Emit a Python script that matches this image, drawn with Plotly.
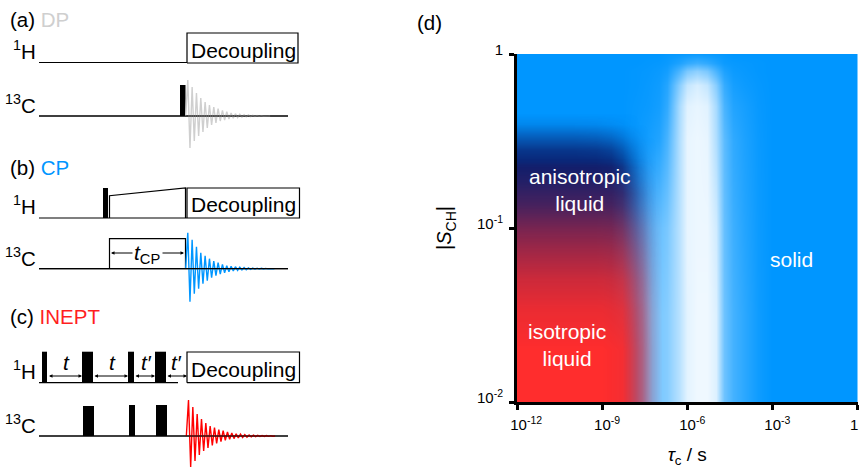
import plotly.graph_objects as go

BLUE = "#0096ff"
RED = "#ff1f1f"
GREY = "#cfcfcf"
FONT = "Liberation Sans"

# ---- panel (d) data: exponents of the axes and intensity tables
tick_tau = [1e-12, 1e-9, 1e-6, 1e-3, 1]
tick_tau_text = ["\u00a0\u00a010<sup>-12</sup>", "10<sup>-9</sup>", "10<sup>-6</sup>", "10<sup>-3</sup>", "1\u00a0\u00a0\u00a0\u00a0"]
tick_s = [1e-2, 1e-1, 1]
tick_s_text = ["10<sup>-2</sup>", "10<sup>-1</sup>", "1"]

white_tau = [-12.5, -8.3, -7.8, -7.4, -7.0, -6.7, -6.3, -6.0, -5.64, -5.3, -5.0, -4.7, -4.4, -4.0, -3.5, -3.0, 0.5]
white_s = [-2.3, -1.5, -1.0, -0.5, -0.3, -0.18, -0.1, -0.05, 0.0, 0.2]
white_level = [
    [0, 0, .10, .40, .50, .55, .75, .93, .98, .98, .90, .45, .28, .18, .06, 0, 0],
    [0, 0, .10, .40, .50, .55, .75, .93, .98, .98, .90, .45, .28, .18, .06, 0, 0],
    [0, 0, .10, .30, .42, .50, .75, .95, .97, .97, .85, .42, .25, .15, .05, 0, 0],
    [0, 0, .03, .08, .14, .30, .72, .95, .97, .95, .72, .38, .20, .12, .04, 0, 0],
    [0, 0, .02, .04, .08, .20, .68, .92, .95, .92, .68, .30, .14, .09, .03, 0, 0],
    [0, 0, .01, .03, .06, .15, .55, .80, .88, .80, .55, .22, .09, .05, .02, 0, 0],
    [0, 0, .01, .02, .04, .08, .30, .50, .58, .50, .30, .12, .05, .03, .01, 0, 0],
    [0, 0, 0, .01, .02, .04, .12, .20, .25, .20, .12, .05, .03, .02, .01, 0, 0],
    [0, 0, 0, 0, 0, .02, .03, .04, .05, .04, .03, .02, 0, 0, 0, 0, 0],
    [0, 0, 0, 0, 0, 0, 0, 0, 0, 0, 0, 0, 0, 0, 0, 0, 0],
]

navy_tau = [-12.5, -10, -9.2, -8.7, -8.3, -8, -7.7, -7.4, -7.1, 0.5]
navy_s = [-2.3, -1.4, -0.8, -0.65, -0.55, -0.47, -0.40, -0.34, 0.2]
navy_level = [
    [1, 1, 1, .90, .55, .20, .05, 0, 0, 0],
    [1, 1, 1, .90, .55, .20, .05, 0, 0, 0],
    [1, 1, 1, 1, .88, .60, .32, .10, 0, 0],
    [1, 1, 1, .97, .80, .50, .25, .07, 0, 0],
    [.80, .80, .78, .70, .52, .30, .14, .03, 0, 0],
    [.45, .45, .42, .35, .24, .12, .05, 0, 0, 0],
    [.12, .12, .11, .08, .05, .02, 0, 0, 0, 0],
    [0, 0, 0, 0, 0, 0, 0, 0, 0, 0],
    [0, 0, 0, 0, 0, 0, 0, 0, 0, 0],
]

red_tau = [-12.5, -9.0, -8.3, -7.95, -7.6, -7.25, -6.9, 0.5]
red_tau_level = [1, 1, 0.96, 0.80, 0.58, 0.22, 0, 0]
red_s = [-2.3, -1.7, -1.47, -1.3, -1.12, -1.0, -0.87, -0.72, -0.6, 0.2]
red_s_level = [1, 1, 0.92, 0.8, 0.6, 0.45, 0.25, 0.09, 0, 0]

# ---- panels (a)-(c) data, on a time axis / amplitude axis in figure units
fid_up_a = [36, 29, 23, 18, 14, 11, 9, 7.3, 5.6, 4.3, 3, 2.3, 1.7, 1.3, 1, 0.7, 0.5, 0.3, 0.2]
fid_down_a = [32, 25, 20, 16, 12, 9, 7, 5, 4, 3, 2.2, 1.6, 1.2, 0.9, 0.6, 0.4, 0.3, 0.2, 0.1]
fid_up_b = [36, 29, 22, 16, 13, 10, 7.7, 6, 4.3, 3, 2.4, 2, 1.5, 1.2, 0.9, 0.7, 0.5, 0.4, 0.3, 0.2]
fid_down_b = [33, 25, 20, 15, 12, 9, 7, 5.3, 4, 3, 2.2, 1.7, 1.3, 1, 0.8, 0.6, 0.4, 0.3, 0.2, 0.1]
fid_up_c = [36, 29, 22, 17, 13, 10, 8.3, 6.3, 5.3, 4, 3, 2.3, 1.8, 1.4, 1.1, 0.9, 0.7, 0.5, 0.4, 0.3]
fid_down_c = [31, 25, 19, 15, 12, 9.3, 7.3, 5.7, 4.3, 3.3, 2.6, 2, 1.5, 1.2, 0.9, 0.7, 0.5, 0.4, 0.3, 0.2]

panel_lines = [
    ([39, 187], [62.5, 62.5]),
    ([39, 288], [116, 116]),
    ([39, 187], [218, 218]),
    ([39, 288], [268.7, 268.7]),
    ([39, 178], [382.7, 382.7]),
    ([39, 288], [436, 436]),
    ([187, 298, 298, 187, 187], [63, 63, 33, 33, 63]),
    ([187, 299.5, 299.5, 187, 187], [218, 218, 188, 188, 218]),
    ([187, 299.5, 299.5, 187, 187], [382.7, 382.7, 352, 352, 382.7]),
    ([109.5, 109.5, 185.5, 185.5], [218, 195.7, 188, 218]),
    ([109.5, 109.5, 185.5, 185.5], [268.7, 238.7, 238.7, 268.7]),
]

pulse_left = [180, 103, 42, 82, 128, 155, 83, 129, 156]
pulse_right = [185.5, 108, 47, 93, 134, 166, 94, 135, 167]
pulse_top = [85, 188, 351.7, 351.7, 351.7, 351.7, 406, 405, 405]
pulse_bottom = [116, 218, 383, 383, 383, 383, 436, 436, 436]

arrows = [
    (134, 111, 253), (161, 184, 253),
    (47.5, 82, 376), (93, 128, 376), (134, 155, 376), (166, 187, 376),
]


def fid_path(x0, baseline, ups, downs, step):
    xs, ys = [x0 - step / 2], [baseline]
    x = x0
    for u, d in zip(ups, downs):
        xs += [x, x + step / 2]
        ys += [baseline - u, baseline + d]
        x += step
    xs.append(x)
    ys.append(baseline)
    return xs, ys


fig = go.Figure()


def layer(tx, sy, z, colorscale):
    fig.add_trace(go.Heatmap(
        x=[10 ** v for v in tx], y=[10 ** v for v in sy], z=z, zmin=0, zmax=1,
        zsmooth="best", colorscale=colorscale, showscale=False, hoverinfo="skip",
        xaxis="x", yaxis="y"))


layer(white_tau, white_s, white_level, [[0, BLUE], [1, "#f4faff"]])
layer(navy_tau, navy_s, navy_level, [[0, "rgba(10,30,110,0)"], [1, "rgba(10,30,110,1)"]])
layer(red_tau, red_s, [[a * b for a in red_tau_level] for b in red_s_level],
      [[0, "rgba(255,45,45,0)"], [1, "rgba(255,45,45,1)"]])

for xs, ys in panel_lines:
    fig.add_trace(go.Scatter(x=xs, y=ys, mode="lines", line=dict(color="black", width=1.2),
                             xaxis="x2", yaxis="y2", hoverinfo="skip", showlegend=False))

for (x0, base, ups, downs, color) in [
    (187.8, 116, fid_up_a, fid_down_a, GREY),
    (187.8, 268.7, fid_up_b, fid_down_b, BLUE),
    (188.5, 436, fid_up_c, fid_down_c, "#ff0000"),
]:
    xs, ys = fid_path(x0, base, ups, downs, 4.33)
    fig.add_trace(go.Scatter(x=xs, y=ys, mode="lines", line=dict(color=color, width=1.4),
                             xaxis="x2", yaxis="y2", hoverinfo="skip", showlegend=False))

# redraw FID baselines above the decays
for xs, ys in [panel_lines[1], panel_lines[3], panel_lines[5]]:
    fig.add_trace(go.Scatter(x=xs, y=ys, mode="lines", line=dict(color="black", width=1.2),
                             xaxis="x2", yaxis="y2", hoverinfo="skip", showlegend=False))

fig.add_trace(go.Bar(
    x=[(a + b) / 2 for a, b in zip(pulse_left, pulse_right)],
    width=[b - a for a, b in zip(pulse_left, pulse_right)],
    base=pulse_bottom,
    y=[t - b for t, b in zip(pulse_top, pulse_bottom)],
    marker=dict(color="black", line=dict(width=0)),
    xaxis="x2", yaxis="y2", hoverinfo="skip", showlegend=False))


def note(x, y, text, size=21, color="black", xanchor="center"):
    return dict(x=x, y=y, xref="x2", yref="y2", text=text, showarrow=False,
                xanchor=xanchor, yanchor="middle", align="center",
                font=dict(family=FONT, size=size, color=color))


ann = [
    note(8, 19, f"(a) <span style='color:{GREY}'>DP</span>", size=20.5, xanchor="left"),
    note(8, 167, f"(b) <span style='color:{BLUE}'>CP</span>", size=20.5, xanchor="left"),
    note(8, 316, f"(c) <span style='color:{RED}'>INEPT</span>", size=20.5, xanchor="left"),
    note(415, 22.5, "(d)", size=20.5, xanchor="left"),
    note(37.5, 50, "<sup>1</sup>H", size=20.5, xanchor="right"),
    note(37.5, 104, "<sup>13</sup>C", size=20.5, xanchor="right"),
    note(37.5, 205, "<sup>1</sup>H", size=20.5, xanchor="right"),
    note(37.5, 257, "<sup>13</sup>C", size=20.5, xanchor="right"),
    note(37.5, 370, "<sup>1</sup>H", size=20.5, xanchor="right"),
    note(37.5, 424, "<sup>13</sup>C", size=20.5, xanchor="right"),
    note(243, 50, "Decoupling"),
    note(243, 204, "Decoupling"),
    note(243, 369, "Decoupling"),
    note(147, 254, "<i>t</i><sub>CP</sub>"),
    note(66, 362, "<i>t</i>"),
    note(112, 362, "<i>t</i>"),
    note(146, 362, "<i>t\u2032</i>"),
    note(176, 362, "<i>t\u2032</i>"),
    note(580, 190, "anisotropic<br>liquid", color="white"),
    note(567, 345, "isotropic<br>liquid", color="white"),
    note(791, 259, "solid", color="white"),
]
for x_from, x_to, y in arrows:
    single = x_from in (134, 161) and y == 253
    ann.append(dict(x=x_to, y=y, ax=x_from, ay=y, xref="x2", yref="y2", axref="x2", ayref="y2",
                    text="", showarrow=True, arrowhead=2, arrowsize=0.7, arrowwidth=1,
                    arrowside="end" if single else "end+start", arrowcolor="black",
                    standoff=0, startstandoff=0))

W, H = 862, 468
axis_font = dict(family=FONT, size=15, color="black")
fig.update_layout(
    width=W, height=H, margin=dict(l=0, r=0, t=0, b=0, autoexpand=False), autosize=False,
    paper_bgcolor="white", plot_bgcolor="rgba(0,0,0,0)", showlegend=False, barmode="overlay",
    annotations=ann,
    xaxis=dict(domain=[517 / W, 857.5 / W], type="log", range=[-12, 0], tickmode="array",
               tickvals=tick_tau, ticktext=tick_tau_text, ticks="outside", ticklen=5, tickwidth=2.5,
               showline=True, linecolor="black", linewidth=3, showgrid=False, zeroline=False,
               tickcolor="black", tickfont=axis_font, automargin=False,
               ticklabelstandoff=2, ticklabelshift=5, ticklabeloverflow="allow",
               title=dict(text="<i>τ</i><sub>c</sub> / s", standoff=20,
                          font=dict(family=FONT, size=19, color="black")),
               anchor="y"),
    yaxis=dict(domain=[1 - 402 / H, 1 - 54 / H], type="log", range=[-2, 0], tickmode="array",
               tickvals=tick_s, ticktext=tick_s_text, ticks="outside", ticklen=5, tickwidth=2.5,
               showline=True, linecolor="black", linewidth=3, showgrid=False, zeroline=False,
               tickcolor="black", tickfont=axis_font, automargin=False,
               ticklabelstandoff=3, ticklabelshift=-4, ticklabeloverflow="allow",
               title=dict(text="\u00a0\u00a0|<i>S</i><sub>CH</sub>|", standoff=20,
                          font=dict(family=FONT, size=20, color="black")),
               anchor="x"),
    xaxis2=dict(domain=[0, 1], range=[0, W], visible=False, fixedrange=True, anchor="y2"),
    yaxis2=dict(domain=[0, 1], range=[H, 0], visible=False, fixedrange=True, anchor="x2"),
)

fig.write_html("out.html", config=dict(displayModeBar=False),
               post_script="document.body.style.margin='0';")
